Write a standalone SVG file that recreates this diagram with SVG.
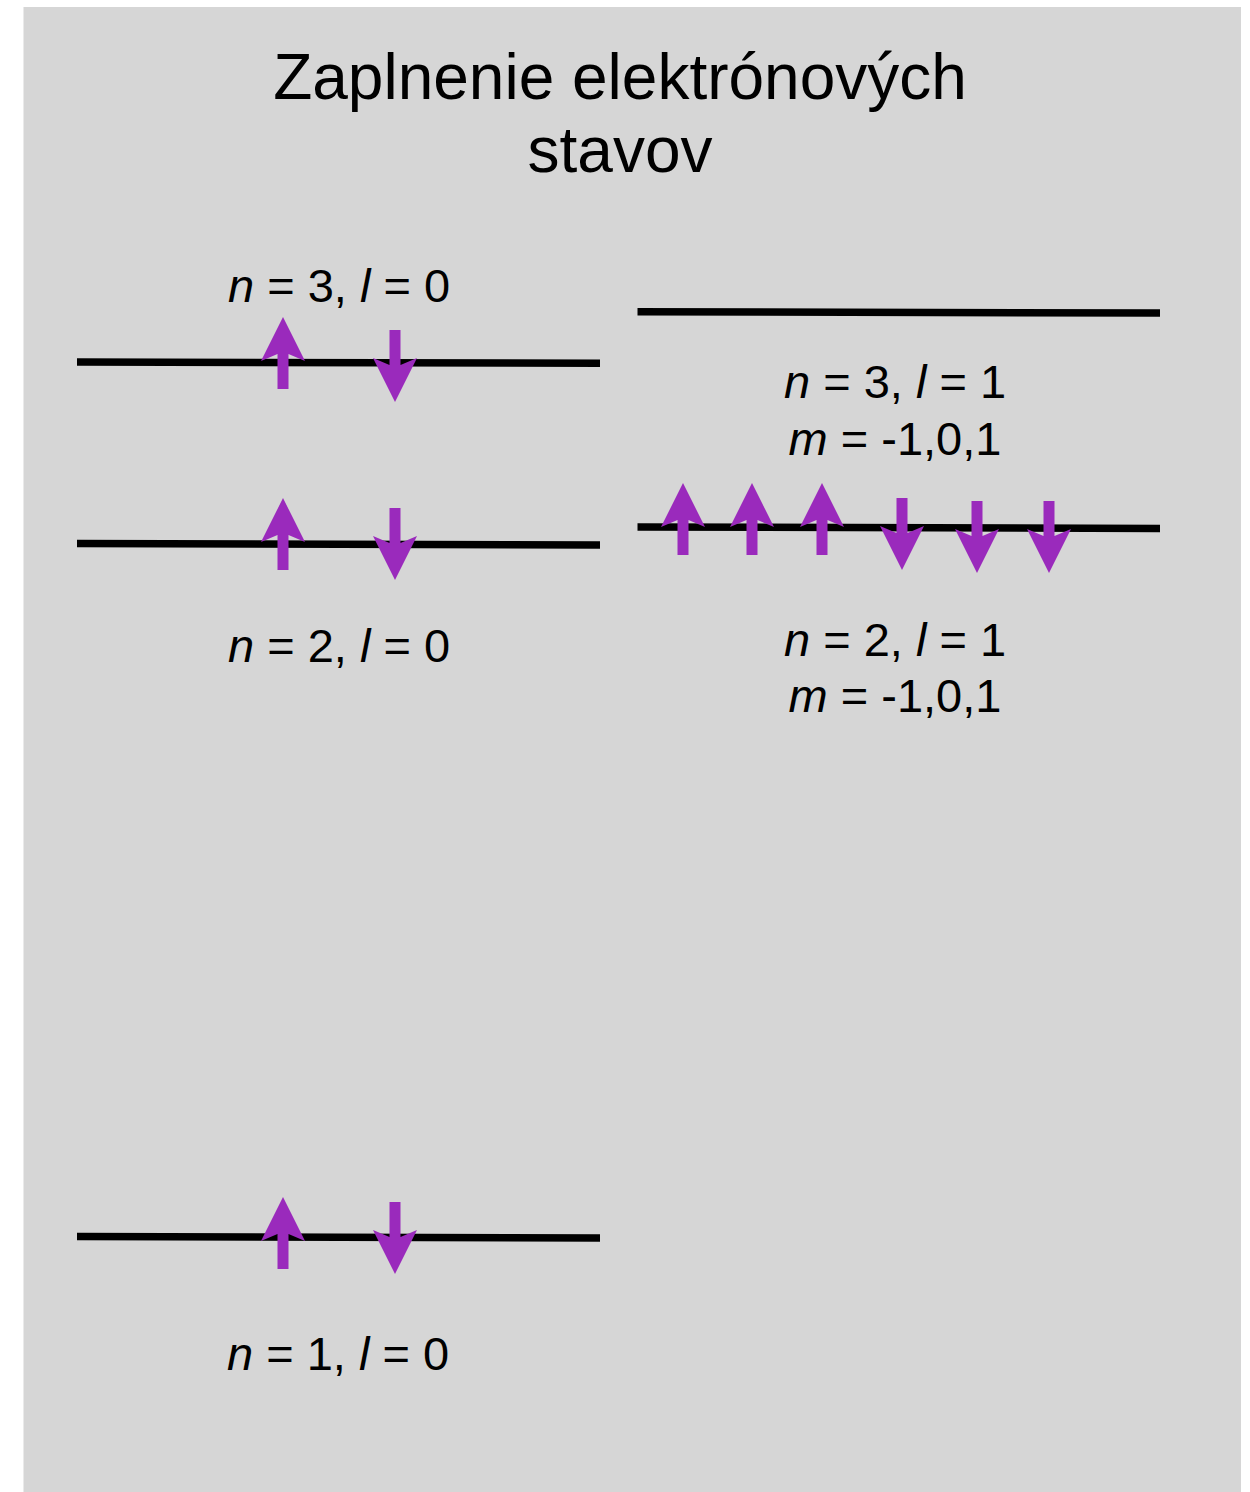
<svg xmlns="http://www.w3.org/2000/svg" xmlns:xlink="http://www.w3.org/1999/xlink" width="1250" height="1492" viewBox="0 0 1250 1492">
<style>
.lvl{stroke:#000;stroke-width:7.5;fill:none}
.t{font-family:"Liberation Sans",Arial,sans-serif;fill:#000}
.lab{font-size:47px;text-anchor:middle}
.title{font-size:64px;text-anchor:middle}
.arr{fill:#9a2abc}
</style>
<defs>
<path id="up" class="arr" d="M0,0 L22,44 L5.5,37 L5.5,72 L-5.5,72 L-5.5,37 L-22,44 Z"/>
<path id="down" class="arr" d="M-5.5,0 L5.5,0 L5.5,35 L22,28 L0,72 L-22,28 L-5.5,35 Z"/>
</defs>
<rect x="23.5" y="7" width="1217.5" height="1485" fill="#d6d6d6"/>
<g id="title" class="t title">
<text x="620" y="99">Zaplnenie elektrónových</text>
<text x="620" y="172">stavov</text>
</g>
<g id="connectors">
<line class="lvl" x1="77" y1="362" x2="600" y2="363.3"/>
<line class="lvl" x1="77" y1="543.5" x2="600" y2="545"/>
<line class="lvl" x1="77" y1="1236.5" x2="600" y2="1238"/>
<line class="lvl" x1="637.5" y1="311.7" x2="1160" y2="313"/>
<line class="lvl" x1="637.5" y1="527" x2="1160" y2="528.5"/>
</g>
<g id="level-3s">
<use xlink:href="#up" x="283" y="317"/>
<use xlink:href="#down" x="395" y="330"/>
<text class="t lab" x="339" y="302"><tspan font-style="italic">n</tspan> = 3, <tspan font-style="italic">l</tspan> = 0</text>
</g>
<g id="level-2s">
<use xlink:href="#up" x="283" y="498"/>
<use xlink:href="#down" x="395" y="508"/>
<text class="t lab" x="339" y="662"><tspan font-style="italic">n</tspan> = 2, <tspan font-style="italic">l</tspan> = 0</text>
</g>
<g id="level-1s">
<use xlink:href="#up" x="283" y="1197"/>
<use xlink:href="#down" x="395" y="1202"/>
<text class="t lab" x="338" y="1370"><tspan font-style="italic">n</tspan> = 1, <tspan font-style="italic">l</tspan> = 0</text>
</g>
<g id="level-3p">
<text class="t lab" x="895" y="398"><tspan font-style="italic">n</tspan> = 3, <tspan font-style="italic">l</tspan> = 1</text>
<text class="t lab" x="895" y="455"><tspan font-style="italic">m</tspan> = -1,0,1</text>
</g>
<g id="level-2p">
<use xlink:href="#up" x="683" y="483"/>
<use xlink:href="#up" x="752" y="483"/>
<use xlink:href="#up" x="822" y="483"/>
<use xlink:href="#down" x="902" y="498"/>
<use xlink:href="#down" x="977" y="501"/>
<use xlink:href="#down" x="1049" y="501"/>
<text class="t lab" x="895" y="656"><tspan font-style="italic">n</tspan> = 2, <tspan font-style="italic">l</tspan> = 1</text>
<text class="t lab" x="895" y="712"><tspan font-style="italic">m</tspan> = -1,0,1</text>
</g>
</svg>
